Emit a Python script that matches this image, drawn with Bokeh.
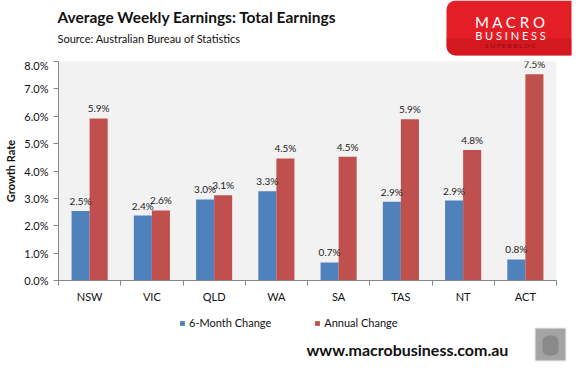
from bokeh.plotting import figure
from bokeh.layouts import column
from bokeh.models import (BoxAnnotation, FixedTicker, PrintfTickFormatter,
                          Range1d, ColumnDataSource, Legend, LegendItem)
from bokeh.embed import file_html
from bokeh.resources import INLINE
from bokeh.core.properties import value
import numpy as np

states = ["NSW", "VIC", "QLD", "WA", "SA", "TAS", "NT", "ACT"]
six_month = [2.54, 2.37, 2.96, 3.26, 0.66, 2.88, 2.92, 0.77]
annual = [5.92, 2.56, 3.11, 4.46, 4.52, 5.89, 4.77, 7.53]
y_ticks = [0, 1, 2, 3, 4, 5, 6, 7, 8]
series_names = ["6-Month Change", "Annual Change"]

BLUE = "#4F81BD"
RED = "#C0504D"
FONT = "Lato"
W = 579


def blank(height):
    f = figure(width=W, height=height, output_backend="svg", toolbar_location=None,
               x_range=Range1d(0, W), y_range=Range1d(height, 0),
               x_axis_location=None, y_axis_location=None,
               min_border_left=0, min_border_right=0, min_border_top=0, min_border_bottom=0)
    f.outline_line_color = None
    f.xgrid.grid_line_color = None
    f.ygrid.grid_line_color = None
    f.background_fill_color = "white"
    f.border_fill_color = "white"
    return f


# ---------- header ----------
hdr = blank(58)
hdr.text(x=[57], y=[16], text=["Average Weekly Earnings: Total Earnings"],
         text_font=value(FONT), text_font_size="15.5px", text_font_style="bold",
         text_baseline="middle", text_color="#111111")
hdr.text(x=[57], y=[38], text=["Source: Australian Bureau of Statistics"],
         text_font=value(FONT), text_font_size="11px",
         text_baseline="middle", text_color="#111111")
hdr.add_layout(BoxAnnotation(left=446, right=571, top=0, bottom=55, level="underlay",
                             fill_color="#E31E26", fill_alpha=1, line_color=None,
                             border_radius=(9, 0, 0, 9)))
hdr.add_layout(BoxAnnotation(left=446, right=571, top=38, bottom=55, level="underlay",
                             fill_color="#C0121A", fill_alpha=0.45, line_color=None,
                             border_radius=(0, 0, 0, 9)))
hdr.text(x=[510], y=[21], text=["M A C R O"], text_font=value(FONT),
         text_font_size="15px", text_color="white", text_align="center",
         text_baseline="middle")
hdr.text(x=[510], y=[35], text=["B U S I N E S S"], text_font=value(FONT),
         text_font_size="11px", text_color="white", text_align="center",
         text_baseline="middle")
hdr.text(x=[510], y=[45], text=["S U P E R B L O G"], text_font=value(FONT),
         text_font_size="6.5px", text_color="#8B0A10", text_align="center",
         text_baseline="middle")

# ---------- main chart ----------
idx = np.arange(len(states)) + 0.5
bw = 0.29
src = ColumnDataSource(dict(
    xb=idx - bw / 2, xr=idx + bw / 2,
    six=six_month, ann=annual,
    six_lbl=[f"{v:.1f}%" for v in six_month],
    ann_lbl=[f"{v:.1f}%" for v in annual],
))

p = figure(width=W, height=247, output_backend="svg", toolbar_location=None,
           x_range=Range1d(0, len(states)), y_range=Range1d(0, 8),
           min_border_left=58, min_border_right=23, min_border_top=3, min_border_bottom=23)
p.background_fill_color = "#F2F2F2"
p.border_fill_color = "white"
p.outline_line_color = None
p.xgrid.grid_line_color = None
p.ygrid.grid_line_color = None

p.vbar(x="xb", top="six", width=bw, source=src, fill_color=BLUE, line_color=None)
p.vbar(x="xr", top="ann", width=bw, source=src, fill_color=RED, line_color=None)

for xcol, ycol, tcol in (("xb", "six", "six_lbl"), ("xr", "ann", "ann_lbl")):
    p.text(x=xcol, y=ycol, text=tcol, source=src, text_font=value(FONT),
           text_font_size="10px", text_align="center", text_baseline="bottom",
           y_offset=-4, text_color="#222222")

xa = p.xaxis[0]
xa.ticker = FixedTicker(ticks=list(idx), minor_ticks=list(range(len(states) + 1)))
xa.major_label_overrides = {float(v): s for v, s in zip(idx, states)}
xa.major_tick_out = 0
xa.major_tick_in = 0
xa.minor_tick_out = 5
xa.minor_tick_in = 0
xa.minor_tick_line_color = "#868686"
xa.axis_line_color = "#868686"
xa.major_label_text_font = FONT
xa.major_label_text_font_size = "11px"
xa.major_label_text_color = "#111111"
xa.major_label_standoff = 4

ya = p.yaxis[0]
ya.ticker = FixedTicker(ticks=y_ticks)
ya.formatter = PrintfTickFormatter(format="%.1f%%")
ya.minor_tick_line_color = None
ya.major_tick_out = 5
ya.major_tick_in = 0
ya.major_tick_line_color = "#868686"
ya.axis_line_color = "#868686"
ya.major_label_text_font = FONT
ya.major_label_text_font_size = "11px"
ya.major_label_text_color = "#111111"
ya.major_label_standoff = 5
ya.axis_label = "Growth Rate"
ya.axis_label_text_font = FONT
ya.axis_label_text_font_size = "11px"
ya.axis_label_text_font_style = "bold"
ya.axis_label_text_color = "#111111"
ya.axis_label_standoff = 4

# ---------- footer ----------
ftr = blank(70)
lb = ftr.vbar(x=[0], top=[0], width=1, fill_color=BLUE, line_color=None)
lr = ftr.vbar(x=[0], top=[0], width=1, fill_color=RED, line_color=None)
legend = Legend(items=[LegendItem(label=series_names[0], renderers=[lb]),
                       LegendItem(label=series_names[1], renderers=[lr])],
                orientation="horizontal", location=(179, 46),
                glyph_width=6, glyph_height=6, label_height=12, spacing=43,
                label_standoff=4, label_text_font=FONT, label_text_font_size="11px",
                label_text_color="#111111",
                background_fill_alpha=0, border_line_color=None, padding=0, margin=0)
ftr.add_layout(legend)
ftr.text(x=[306], y=[44], text=["www.macrobusiness.com.au"], text_font=value(FONT),
         text_font_size="16px", text_font_style="bold", text_baseline="middle",
         text_color="#111111")
ftr.add_layout(BoxAnnotation(left=535, right=565, top=23, bottom=55,
                             fill_color="#A4A4A4", fill_alpha=1, line_color="#BEBEBE",
                             line_width=2))
ftr.add_layout(BoxAnnotation(left=542, right=558, top=30, bottom=50,
                             fill_color="#7A7A7A", fill_alpha=0.6, line_color=None,
                             border_radius=6))

layout = column(column(hdr), p, column(ftr), spacing=0)
open("out.html", "w").write(file_html(layout, INLINE))
